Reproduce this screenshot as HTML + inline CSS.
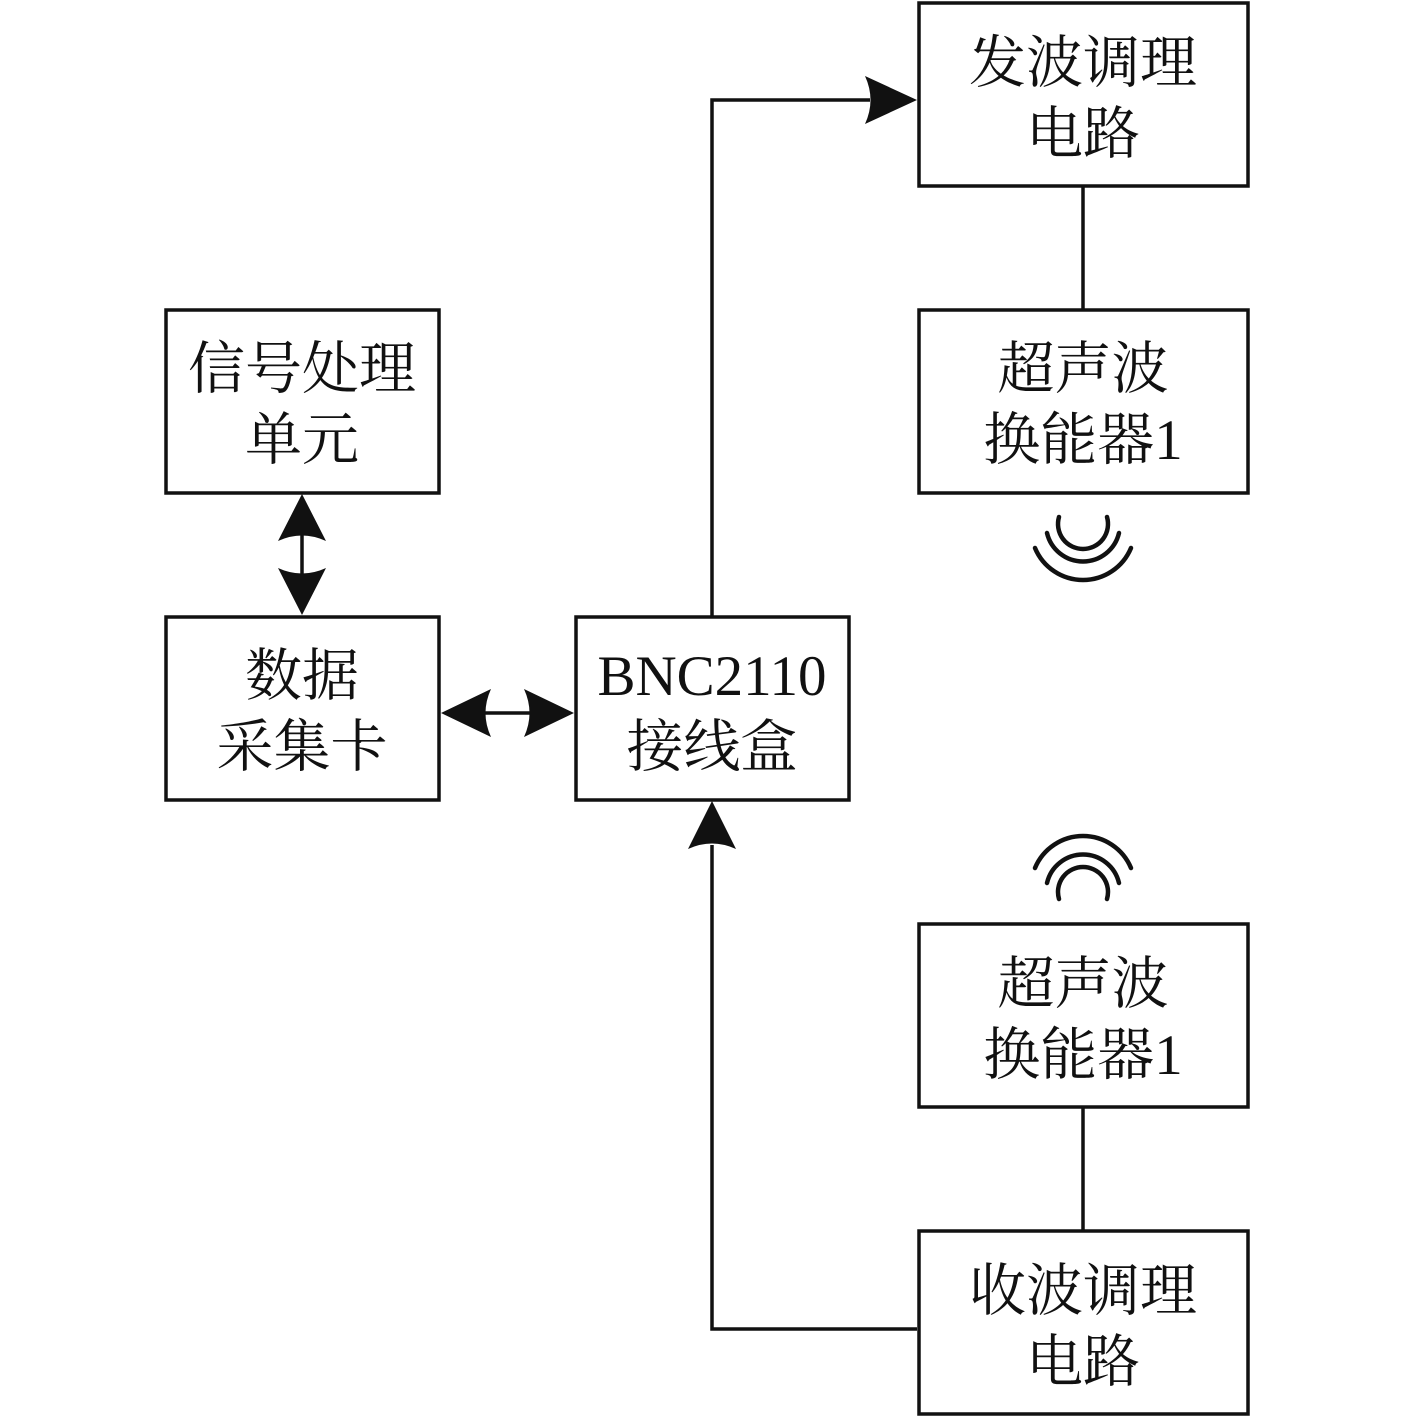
<!DOCTYPE html>
<html><head><meta charset="utf-8"><style>
html,body{margin:0;padding:0;background:#fff;}
svg{display:block;}
text{font-family:"Liberation Serif","Noto Serif CJK SC",serif;font-size:57px;fill:#111;}
</style></head><body>
<svg width="1417" height="1417" viewBox="0 0 1417 1417" xmlns="http://www.w3.org/2000/svg">
<g fill="#fff" stroke="#111" stroke-width="3.5">
<rect x="166" y="310" width="273" height="183"/>
<rect x="166" y="617" width="273" height="183"/>
<rect x="576" y="617" width="273" height="183"/>
<rect x="919" y="3" width="329" height="183"/>
<rect x="919" y="310" width="329" height="183"/>
<rect x="919" y="924" width="329" height="183"/>
<rect x="919" y="1231" width="329" height="183"/>
</g>
<g fill="none" stroke="#111" stroke-width="3.5">
<polyline points="712,617 712,100 870,100"/>
<polyline points="917,1329 712,1329 712,845"/>
<line x1="1083" y1="186" x2="1083" y2="310"/>
<line x1="1083" y1="1107" x2="1083" y2="1231"/>
<line x1="302" y1="530" x2="302" y2="580"/>
<line x1="480" y1="713" x2="535" y2="713"/>
</g>
<g fill="#111">
<path d="M917,100 L865,76 Q876,100 865,124 Z"/>
<path d="M712,801 L688,849 Q712,838 736,849 Z"/>
<path d="M302,494 L278,541 Q302,530 326,541 Z"/>
<path d="M302,615 L278,568 Q302,579 326,568 Z"/>
<path d="M441,713 L491,689 Q480,713 491,737 Z"/>
<path d="M574,713 L524,689 Q535,713 524,737 Z"/>
</g>
<g fill="none" stroke="#111" stroke-width="4.5" stroke-linecap="round">
<path d="M1059,517 A25,25 0 1 0 1107,517"/>
<path d="M1047,533 A37,37 0 0 0 1119,533"/>
<path d="M1035,548 A52,52 0 0 0 1131,548"/>
<path d="M1059,899 A25,25 0 1 1 1107,899"/>
<path d="M1047,883 A37,37 0 0 1 1119,883"/>
<path d="M1035,868 A52,52 0 0 1 1131,868"/>
</g>
<g text-anchor="middle">
<text x="302" y="388">信号处理</text>
<text x="302" y="459">单元</text>
<text x="302" y="695">数据</text>
<text x="302" y="766">采集卡</text>
<text x="712" y="695">BNC2110</text>
<text x="712" y="766">接线盒</text>
<text x="1083" y="82">发波调理</text>
<text x="1083" y="153">电路</text>
<text x="1083" y="388">超声波</text>
<text x="1083" y="459">换能器1</text>
<text x="1083" y="1003">超声波</text>
<text x="1083" y="1074">换能器1</text>
<text x="1083" y="1310">收波调理</text>
<text x="1083" y="1381">电路</text>
</g>
</svg>
</body></html>
